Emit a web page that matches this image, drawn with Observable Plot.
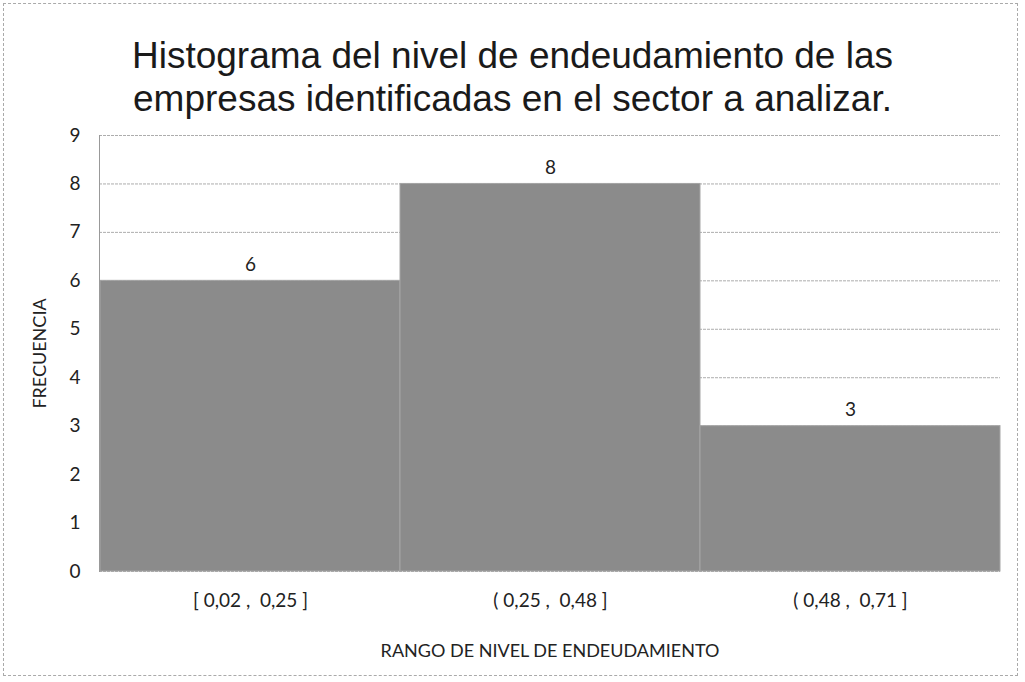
<!DOCTYPE html>
<html><head><meta charset="utf-8">
<script src="https://cdn.jsdelivr.net/npm/d3@7"></script>
<script src="https://cdn.jsdelivr.net/npm/@observablehq/plot@0.6"></script>
<style>
body{margin:0;background:#fff;width:1025px;height:682px;overflow:hidden;position:relative;}
#frame{position:absolute;left:3px;top:3px;width:1015px;height:673px;border:1px dashed #aaa;box-sizing:border-box;}
#title{position:absolute;left:0;top:0;width:1025px;height:115px;text-align:center;font-family:"Liberation Sans",Arial,sans-serif;font-size:37px;line-height:43px;color:#1a1a1a;padding-top:34px;box-sizing:border-box;}
#chart{position:absolute;left:0;top:115px;}
</style>
</head><body>
<div id="frame"></div>
<div id="title">Histograma del nivel de endeudamiento de las<br>empresas identificadas en el sector a analizar.</div>
<div id="chart"></div>
<script>
const categories = ["[ 0,02 ,  0,25 ]", "( 0,25 ,  0,48 ]", "( 0,48 ,  0,71 ]"];
const frequencies = [6, 8, 3];
const yTicks = [0,1,2,3,4,5,6,7,8,9];
const xLabel = "RANGO DE NIVEL DE ENDEUDAMIENTO";
const yLabel = "FRECUENCIA";

const data = categories.map((c, i) => ({cat: c, freq: frequencies[i]}));
const font = "Lato, 'Open Sans', sans-serif";

const plot = Plot.plot({
  width: 1025,
  height: 567,
  marginLeft: 99,
  marginRight: 25,
  marginTop: 20,
  marginBottom: 111,
  style: {fontFamily: font, fontSize: "19px", color: "#222", background: "transparent", overflow: "visible"},
  x: {domain: categories, padding: 0, label: null},
  y: {domain: [0, 9], label: null},
  marks: [
    Plot.gridY(yTicks, {stroke: "#999", strokeOpacity: 0.8, strokeDasharray: "3,1"}),
    Plot.barY(data, {x: "cat", y: "freq", fill: "#8b8b8b", stroke: "#a5a5a5", strokeWidth: 1}),
    Plot.ruleY(data, {x: "cat", y: "freq", stroke: "#333", strokeWidth: 2}),
    Plot.text(data, {x: "cat", y: "freq", text: d => String(d.freq), dy: -16, fontSize: 19, fill: "#222"}),
    Plot.frame({anchor: "left", stroke: "#999", strokeDasharray: "2,1"}),
    Plot.axisY(yTicks, {tickSize: 0, tickPadding: 19, fontSize: 19, label: null}),
    Plot.axisX({tickSize: 0, tickPadding: 22, fontSize: 19, label: null}),
    Plot.text([yLabel], {frameAnchor: "left", textAnchor: "middle", text: d => d, rotate: -90, dx: -59, fontSize: 18, fill: "#222"}),
    Plot.text([xLabel], {frameAnchor: "bottom", text: d => d, dy: 85, fontSize: 18, fill: "#222"})
  ]
});
document.getElementById("chart").appendChild(plot);
</script>
</body></html>
